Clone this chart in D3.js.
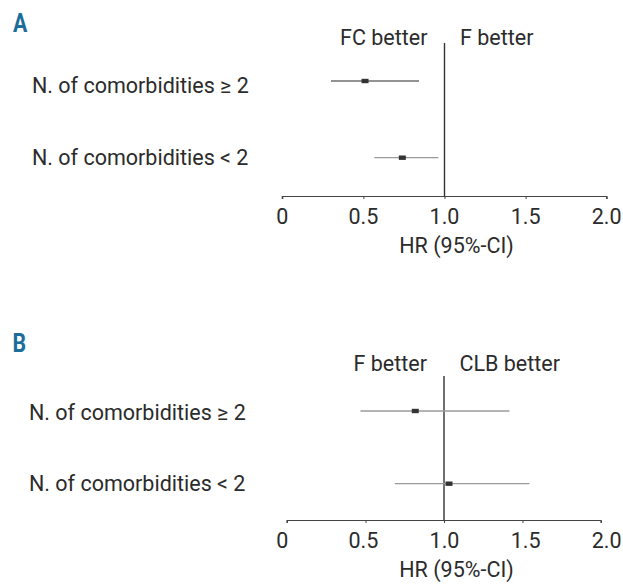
<!DOCTYPE html>
<html>
<head>
<meta charset="utf-8">
<script src="https://cdn.jsdelivr.net/npm/d3@7"></script>
<style>
  body { margin: 0; background: #fff; }
  svg { font-family: "Liberation Sans Narrow", "Roboto", sans-serif; }
  .txt { fill: #2b2b2b; }
  .panel-label { fill: #1a6e99; font-weight: bold; font-size: 26px; }
</style>
</head>
<body>
<div class="chart"></div>
<script>
const rowLabels = ["N. of comorbidities \u2265 2", "N. of comorbidities < 2"];
const tickValues = [0, 0.5, 1.0, 1.5, 2.0];
const tickLabels = ["0", "0.5", "1.0", "1.5", "2.0"];

// panel A: FC vs F
const hrA = [0.51, 0.74];
const lowA = [0.30, 0.567];
const highA = [0.843, 0.962];

// panel B: F vs CLB
const hrB = [0.817, 1.032];
const lowB = [0.468, 0.687];
const highB = [1.417, 1.544];

const width = 623;
const height = 584;

const svg = d3.select("div.chart")
    .append("svg")
    .attr("width", width)
    .attr("height", height);

// posicoes dos rotulos de tick sao iguais nos dois paineis
const labelX = d3.scaleLinear().domain([0, 2]).range([282.3, 606.7]);

const panels = [
    {
        letter: "A", x: d3.scaleLinear().domain([0, 2]).range([282.3, 606.7]),
        hr: hrA, low: lowA, high: highA, left: "FC better", right: "F better",
        rows: [81, 157.7], axisY: 196.5, lineTop: 43, headY: 45,
        labelLeft: 32, labelBase: [92.5, 165], letterY: 32, letterX: 13,
        ciColor: ["#6f6f6f", "#9a9a9a"]
    },
    {
        letter: "B", x: d3.scaleLinear().domain([0, 2]).range([287, 601]),
        hr: hrB, low: lowB, high: highB, left: "F better", right: "CLB better",
        rows: [411, 483.7], axisY: 520.5, lineTop: 376, headY: 370.5,
        labelLeft: 29, labelBase: [420, 491], letterY: 352, letterX: 12.5,
        ciColor: ["#9a9a9a", "#9a9a9a"]
    }
];

panels.forEach(function(p) {
    const g = svg.append("g");

    g.append("text")
        .attr("class", "panel-label")
        .attr("transform", "translate(" + p.letterX + "," + p.letterY + ") scale(0.82,1)")
        .text(p.letter);

    // eixo x
    const axis = g.append("g")
        .attr("transform", "translate(0," + p.axisY + ")")
        .call(d3.axisBottom(p.x).tickValues(tickValues).tickSize(2.5).tickFormat(""));
    axis.select(".domain").attr("stroke", "#444").attr("stroke-width", 1.2)
        .attr("d", "M" + p.x(0) + ",2.5V0H" + p.x(2) + "V2.5");
    axis.selectAll(".tick line").attr("stroke", "#444");

    g.selectAll("text.tick-label")
        .data(tickValues)
        .enter()
        .append("text")
        .attr("class", "txt tick-label")
        .attr("x", function(d) { return labelX(d); })
        .attr("y", p.axisY + 27.5)
        .attr("text-anchor", "middle")
        .attr("font-size", 21.5)
        .text(function(d, i) { return tickLabels[i]; });

    g.append("text")
        .attr("class", "txt")
        .attr("x", 456.5)
        .attr("y", p.axisY + 56)
        .attr("text-anchor", "middle")
        .attr("font-size", 21.5)
        .text("HR (95%-CI)");

    // linha de referencia HR = 1
    g.append("line")
        .attr("x1", p.x(1)).attr("x2", p.x(1))
        .attr("y1", p.lineTop).attr("y2", p.axisY)
        .attr("stroke", "#333")
        .attr("stroke-width", 1.4);

    g.append("text")
        .attr("class", "txt")
        .attr("x", p.x(1) - 17)
        .attr("y", p.headY)
        .attr("text-anchor", "end")
        .attr("font-size", 21.5)
        .text(p.left);

    g.append("text")
        .attr("class", "txt")
        .attr("x", p.x(1) + 15.5)
        .attr("y", p.headY)
        .attr("font-size", 21.5)
        .text(p.right);

    rowLabels.forEach(function(lbl, i) {
        g.append("text")
            .attr("class", "txt")
            .attr("x", p.labelLeft)
            .attr("y", p.labelBase[i])
            .attr("font-size", 21.5)
            .text(lbl);

        g.append("line")
            .attr("x1", p.x(p.low[i])).attr("x2", p.x(p.high[i]))
            .attr("y1", p.rows[i]).attr("y2", p.rows[i])
            .attr("stroke", p.ciColor[i])
            .attr("stroke-width", 1.3);

        g.append("rect")
            .attr("x", p.x(p.hr[i]) - 3.5)
            .attr("y", p.rows[i] - 2.2)
            .attr("width", 7)
            .attr("height", 4.4)
            .attr("fill", "#333");
    });
});
</script>
</body>
</html>
